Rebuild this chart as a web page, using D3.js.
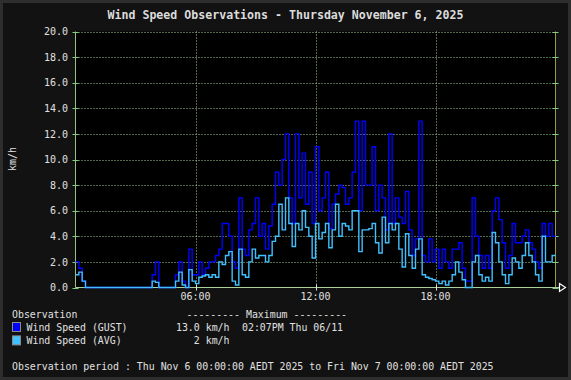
<!DOCTYPE html>
<html><head><meta charset="utf-8">
<script src="https://cdn.jsdelivr.net/npm/d3@7"></script>
<style>html,body{margin:0;padding:0;background:#121212;}svg{display:block;}</style>
</head><body>
<script>
// 10-minute bins from 00:00 to 24:00 (144 bins)
const gust = [
 2,1.5,0.5,0,0,0,0,0,0,0,
 0,0,0,0,0,0,0,0,0,0,
 0,0,0,1,2,0,0,0,0,0,
 1,2,0.5,0,3,1,1,2,1,1.5,
 2,2,2.5,3,5,5,4,2,1.5,7,
 3,2.5,4.5,5,7,4,5,3,4.8,6.5,
 9,8,10,12,7,5,12,7,10.5,6.5,
 9,5,11,6,7,9,4.6,6.5,7.3,8,
 7.8,6.5,7,9,13,6,13,8,8,11,
 6,8,7,4.5,12,5,7,5.5,5,7.5,
 4.5,2.5,3.8,13,2.5,2,3.8,2,3,1.5,
 3,2,1.5,3,3,3.5,1.5,0.5,0.5,7,
 4,2.5,1.5,2.5,1.5,6,7,5.3,3.5,1.5,
 2.5,5,3.5,3.5,4,4.5,3.5,3,2,1.5,
 5,4,5,4
];
const avg = [
 1,1.2,0.5,0,0,0,0,0,0,0,
 0,0,0,0,0,0,0,0,0,0,
 0,0,0,0.5,0.4,0,0,0,0,0,
 0.5,1.2,0.2,0,1.4,0.5,0.3,0.8,0.9,1,
 0.8,1,0.8,2,1.8,2.5,2.8,0.5,0.2,3,
 1,0.8,2,3,2.3,2.5,2.5,2,2.5,3.6,
 4,6.5,4.5,7,5,3.2,5,4.5,6,4.7,
 4,2.3,5,3.8,4.3,5,3.1,4.5,6.5,4,
 5,4.8,4.5,6,6,2.8,4.5,4.5,4.6,5,
 3.5,2.7,5.5,3.5,5,4.5,5,3,1.6,4.2,
 2.5,1.5,3,3.8,1,0.8,0.7,0.6,0.5,0.3,
 0.5,0.2,0.5,1,2,1.2,0.6,0,0,2,
 2.5,1,0.5,0.8,0.5,4.3,3.5,2,1,0.3,
 1,2.3,2,1.5,2.5,3.5,2.5,2,1,0.5,
 4,2,2,2.5
];
const yTicks = [0,2,4,6,8,10,12,14,16,18,20];
const xTicks = [6,12,18];
const xTickLabels = ["06:00","12:00","18:00"];
const title = "Wind Speed Observations - Thursday November 6, 2025";
const seriesNames = ["Wind Speed (GUST)","Wind Speed (AVG)"];
const seriesColors = ["#0000ff","#40c0ff"];
const maxValues = ["13.0 km/h","2 km/h"];
const maxTimes = ["02:07PM Thu 06/11",""];
const period = "Observation period : Thu Nov 6 00:00:00 AEDT 2025 to Fri Nov 7 00:00:00 AEDT 2025";

const W = 571, H = 380;
const font = "'DejaVu Sans Mono', monospace";
const svg = d3.select("body").append("svg").attr("width", W).attr("height", H);

svg.append("rect").attr("width", W).attr("height", H).attr("fill", "#2e2e2e");
svg.append("rect").attr("x", 3).attr("y", 3).attr("width", W - 6).attr("height", H - 6).attr("fill", "#121212");

const x = d3.scaleLinear().domain([0, 24]).range([75.5, 555.5]);
const y = d3.scaleLinear().domain([0, 20]).range([287.5, 31.5]);

svg.append("rect").attr("x", x(0)).attr("y", y(20)).attr("width", x(24) - x(0)).attr("height", y(0) - y(20)).attr("fill", "#000");

const gridColor = "#a8d098";
// horizontal grid
svg.append("g").selectAll("line").data(yTicks.filter(d => d > 0)).join("line")
  .attr("x1", x(0)).attr("x2", x(24))
  .attr("y1", d => Math.round(y(d)) + 0.5).attr("y2", d => Math.round(y(d)) + 0.5)
  .attr("stroke", gridColor).attr("stroke-dasharray", "1,2");
// vertical grid
svg.append("g").selectAll("line").data(xTicks).join("line")
  .attr("x1", d => Math.round(x(d)) + 0.5).attr("x2", d => Math.round(x(d)) + 0.5)
  .attr("y1", y(20)).attr("y2", y(0))
  .attr("stroke", gridColor).attr("stroke-dasharray", "1,2");

// axes lines
svg.append("line").attr("x1", x(0)).attr("x2", x(0)).attr("y1", y(20)).attr("y2", y(0)).attr("stroke", "#98c080");
svg.append("line").attr("x1", x(24)).attr("x2", x(24)).attr("y1", y(20)).attr("y2", y(0)).attr("stroke", "#9a9a40");
svg.append("line").attr("x1", x(0)).attr("x2", x(24) + 4).attr("y1", y(0)).attr("y2", y(0)).attr("stroke", "#a8d098");

// ticks
const yt = svg.append("g");
yt.selectAll("line.l").data(yTicks).join("line").attr("class", "l")
  .attr("x1", x(0) - 3).attr("x2", x(0) + 3)
  .attr("y1", d => Math.round(y(d)) + 0.5).attr("y2", d => Math.round(y(d)) + 0.5)
  .attr("stroke", "#80d080");
yt.selectAll("line.r").data(yTicks).join("line").attr("class", "r")
  .attr("x1", x(24) - 3).attr("x2", x(24) + 3)
  .attr("y1", d => Math.round(y(d)) + 0.5).attr("y2", d => Math.round(y(d)) + 0.5)
  .attr("stroke", "#80d080");
svg.append("g").selectAll("line").data(xTicks).join("line")
  .attr("x1", d => Math.round(x(d)) + 0.5).attr("x2", d => Math.round(x(d)) + 0.5)
  .attr("y1", y(0) - 3).attr("y2", y(0) + 3).attr("stroke", "#e0e0e0");

// arrow
svg.append("path").attr("d", `M${x(24)+4},${y(0)-4} L${x(24)+10},${y(0)} L${x(24)+4},${y(0)+4} Z`)
  .attr("fill", "#121212").attr("stroke", "#ffffff").attr("stroke-width", 1.2);

// tick labels
svg.append("g").selectAll("text").data(yTicks).join("text")
  .attr("x", 68).attr("y", d => y(d)).attr("dy", "0.36em")
  .attr("text-anchor", "end").attr("font-family", font).attr("font-size", "10px").attr("fill", "#e0e0e0")
  .text(d => d.toFixed(1));
svg.append("g").selectAll("text").data(xTicks).join("text")
  .attr("x", d => x(d)).attr("y", 299.5)
  .attr("text-anchor", "middle").attr("font-family", font).attr("font-size", "10px").attr("fill", "#e0e0e0")
  .text((d, i) => xTickLabels[i]);

svg.append("text").attr("transform", "translate(16,159) rotate(-90)")
  .attr("text-anchor", "middle").attr("font-family", font).attr("font-size", "10px").attr("fill", "#e0e0e0")
  .text("km/h");

svg.append("text").attr("x", W / 2).attr("y", 19).attr("text-anchor", "middle")
  .attr("font-family", font).attr("font-size", "11.6px").attr("font-weight", "bold").attr("fill", "#dcdcdc")
  .text(title);

// series lines
const line = d3.line().x((d, i) => x(i / 6)).y(d => y(d)).curve(d3.curveStepAfter);
[gust, avg].forEach((s, k) => {
  const pts = s.concat([s[s.length - 1]]);
  svg.append("path").attr("d", line(pts)).attr("fill", "none")
    .attr("stroke", seriesColors[k]).attr("stroke-width", 1.4).attr("stroke-linejoin", "miter");
});

// legend
const tx = (xx, yy, t, anchor) => svg.append("text").attr("x", xx).attr("y", yy)
  .attr("text-anchor", anchor || "start").attr("font-family", font).attr("font-size", "9.9px")
  .attr("fill", "#e0e0e0").attr("xml:space", "preserve").style("white-space", "pre").text(t);
tx(12, 318, "Observation");
tx(186.5, 317.5, "--------- Maximum ---------");
seriesNames.forEach((n, i) => {
  const yy = 331 + i * 13.4;
  svg.append("rect").attr("x", 12.5).attr("y", yy - 8.5).attr("width", 8).attr("height", 9)
    .attr("fill", seriesColors[i]).attr("stroke", "#8a8a8a");
  tx(26.5, yy, n);
  tx(229.5, yy, maxValues[i], "end");
  if (maxTimes[i]) tx(242, yy, maxTimes[i]);
});
tx(12, 370, period);
</script>
</body></html>
